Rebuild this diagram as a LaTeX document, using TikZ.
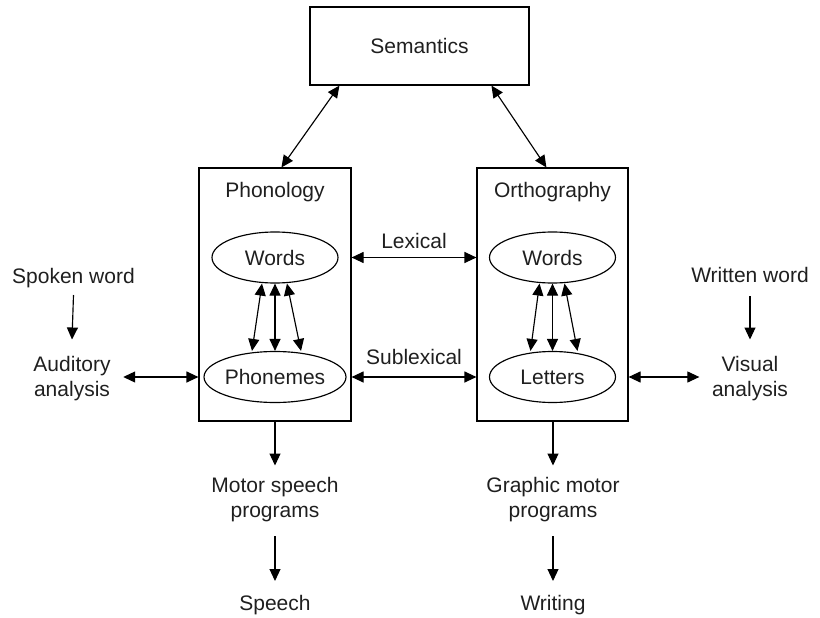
\documentclass[tikz,border=0pt]{standalone}
\usepackage{fontspec}
\setmainfont{Liberation Sans}
\usetikzlibrary{arrows.meta,shapes.geometric}
\begin{document}
\begin{tikzpicture}[x=1pt,y=-1pt,
  every node/.style={text=black!88, font=\fontsize{21}{25}\selectfont},
  line/.style={line width=1.15pt, draw=black},
  tip/.style={-{Triangle[length=12pt,width=11pt]}},
  bitip/.style={{Triangle[length=12pt,width=11pt]}-{Triangle[length=12pt,width=11pt]}},
  module/.style={line, rectangle, inner sep=0pt},
  unit/.style={line, ellipse, minimum width=126pt, minimum height=51pt, inner sep=0pt},
  label/.style={anchor=base, inner sep=0pt},
  side/.style={align=center, inner xsep=12.5pt, inner ysep=0pt}]
\useasboundingbox (0,0) rectangle (820,618);

% top level
\node[module, minimum width=219pt, minimum height=78pt] (sem) at (419.5,46) {Semantics};

% the two lexicons
\node[module, minimum width=152pt, minimum height=253pt] (phon) at (275,294.5) {};
\node[module, minimum width=151pt, minimum height=253pt] (orth) at (552.5,294.5) {};
\node[label] (phonT) at (275,197) {Phonology};
\node[label] (orthT) at (552.5,197) {Orthography};

\node[unit] (pw) at (275,257.5) {Words};
\node[unit] (pp) at (275,377) {Phonemes};
\node[unit] (ow) at (552.5,257.5) {Words};
\node[unit] (ol) at (552.5,377) {Letters};

% input side
\node[label] (spoken) at (73.5,283) {Spoken word};
\node[side] (aud) at (72,379) {Auditory\\analysis};
\node[label] (written) at (750,282) {Written word};
\node[side] (vis) at (750,379) {Visual\\analysis};

% output side
\node[align=center, inner sep=0pt] (msp) at (275,500) {Motor speech\\programs};
\node[label] (speech) at (275,610) {Speech};
\node[align=center, inner sep=0pt] (gmp) at (553,500) {Graphic motor\\programs};
\node[label] (writing) at (553,610) {Writing};

% route labels
\node[label] (lexT) at (414,248) {Lexical};
\node[label] (sublexT) at (414,364) {Sublexical};

% semantics links
\draw[line, bitip] ([xshift=30pt]sem.south west) -- ([xshift=83pt]phon.north west);
\draw[line, bitip] ([xshift=182pt]sem.south west) -- ([xshift=70pt]orth.north west);

% words <-> sublexical units
\draw[line, bitip] ([xshift=-13pt]pw.south) -- ([xshift=-23pt]pp.north);
\draw[line, bitip] (pw.south) -- (pp.north);
\draw[line, bitip] ([xshift=12pt]pw.south) -- ([xshift=26pt]pp.north);
\draw[line, bitip] ([xshift=-13pt]ow.south) -- ([xshift=-22pt]ol.north);
\draw[line, bitip] (ow.south) -- (ol.north);
\draw[line, bitip] ([xshift=12pt]ow.south) -- ([xshift=25pt]ol.north);

% lexical and sublexical routes
\draw[line, bitip] (phon.east |- pw.center) -- (orth.west |- ow.center);
\draw[line, bitip] (phon.east |- pp.center) -- (orth.west |- ol.center);

% peripheral links
\draw[line, tip] ([yshift=-12pt]spoken.base) -- ([yshift=17pt]aud.north);
\draw[line, tip] ([yshift=-14pt]written.base) -- ([yshift=17pt]vis.north);
\draw[line, bitip] (aud.east |- pp.center) -- (phon.west |- pp.center);
\draw[line, bitip] (orth.east |- ol.center) -- (vis.west |- ol.center);

\draw[line, tip] (phon.south) -- ([yshift=12pt]msp.north);
\draw[line, tip] ([yshift=-14pt]msp.south) -- ([yshift=29pt]speech.base);
\draw[line, tip] (orth.south -| gmp.north) -- ([yshift=12pt]gmp.north);
\draw[line, tip] ([yshift=-14pt]gmp.south) -- ([yshift=29pt]writing.base);
\end{tikzpicture}
\end{document}
